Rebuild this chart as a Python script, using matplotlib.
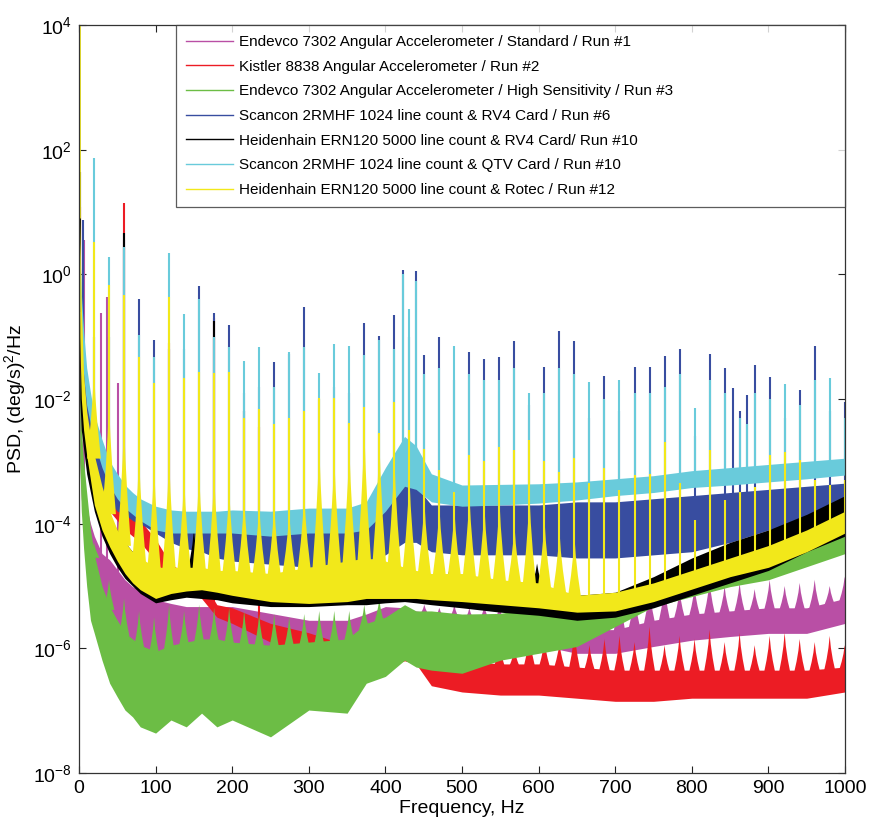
import numpy as np
import matplotlib
matplotlib.use("Agg")
import matplotlib.pyplot as plt
from matplotlib.lines import Line2D

plt.rcParams['font.family'] = ['Liberation Sans', 'DejaVu Sans']

# ---------------- data (PSD values stored as log10 exponents) ----------------
freq_grid = [1, 3, 6, 10, 15, 20, 30, 40, 50, 60, 70, 80, 100, 120, 140, 160, 180, 200,
             250, 300, 350, 375, 400, 425, 440, 460, 500, 550, 600, 650, 700, 750, 800,
             850, 900, 950, 1000]

# Endevco standard (magenta)
magenta_lo = [-3.0, -3.6, -4.0, -4.48, -4.8, -5.12, -5.44, -5.65, -5.81, -5.92, -6.03, -6.08, -6.29, -6.19,
              -6.08, -6.19, -6.08, -6.19, -6.55, -6.5, -6.35, -6.1, -5.9, -5.8, -5.8, -5.8, -5.85, -5.9,
              -5.95, -6.08, -6.08, -5.97, -5.87, -5.81, -5.76, -5.76, -5.6]
magenta_hi = [-1.5, -2.5, -3.0, -3.73, -4.0, -4.2, -4.48, -4.58, -4.74, -4.9, -5.01, -5.06, -5.22, -5.28,
              -5.33, -5.33, -5.33, -5.33, -5.44, -5.55, -5.55, -5.45, -5.33, -5.35, -5.4, -5.44, -5.5, -5.55,
              -5.6, -5.7, -5.7, -5.55, -5.45, -5.4, -5.35, -5.35, -5.2]
# Kistler (red)
red_lo = [-1.5, -2.0, -2.4, -2.9, -3.05, -3.2, -3.5, -3.8, -3.95, -4.1, -4.2, -4.3, -4.6, -4.95,
          -5.1, -5.2, -5.5, -5.6, -5.9, -6.1, -6.35, -6.4, -6.3, -6.2, -6.25, -6.6, -6.7, -6.75,
          -6.75, -6.8, -6.85, -6.85, -6.8, -6.8, -6.8, -6.8, -6.7]
red_hi = [0.0, -1.0, -1.6, -2.3, -2.55, -2.8, -3.0, -3.3, -3.5, -3.7, -3.8, -3.95, -4.25, -4.65,
          -4.8, -4.9, -5.3, -5.35, -5.6, -5.75, -5.95, -6.0, -5.8, -5.55, -5.6, -6.1, -6.2, -6.25,
          -6.25, -6.3, -6.35, -6.35, -6.35, -6.35, -6.35, -6.35, -6.3]
# Endevco high sensitivity (green)
green_lo = [-3.0, -3.8, -4.4, -5.0, -5.55, -5.76, -6.19, -6.56, -6.78, -6.99, -7.1, -7.26, -7.36, -7.15,
            -7.26, -7.04, -7.26, -7.15, -7.42, -6.99, -7.04, -6.56, -6.45, -6.19, -6.3, -6.35, -6.4, -6.19,
            -6.08, -5.97, -5.65, -5.33, -5.17, -5.01, -4.9, -4.69, -4.48]
green_hi = [-1.5, -2.5, -3.0, -3.5, -4.1, -4.5, -5.0, -5.33, -5.55, -5.75, -5.85, -5.95, -6.05, -5.95,
            -5.9, -5.85, -5.85, -5.9, -5.95, -5.9, -5.85, -5.6, -5.5, -5.3, -5.4, -5.4, -5.45, -5.44,
            -5.33, -5.33, -5.17, -4.9, -4.69, -4.58, -4.48, -4.26, -4.05]
# Scancon RV4 (blue)
blue_lo = [-1.0, -1.8, -2.3, -2.7, -3.0, -3.2, -3.45, -3.65, -3.8, -3.85, -3.95, -4.0, -4.15, -4.3,
           -4.4, -4.45, -4.55, -4.6, -4.65, -4.7, -4.7, -4.6, -4.5, -4.3, -4.3, -4.45, -4.5, -4.5,
           -4.5, -4.55, -4.55, -4.5, -4.45, -4.3, -4.1, -3.95, -3.8]
blue_hi = [0.0, -0.8, -1.5, -2.0, -2.3, -2.6, -3.0, -3.25, -3.45, -3.55, -3.65, -3.75, -3.85, -3.95,
           -4.0, -4.0, -4.1, -4.1, -4.1, -4.1, -4.1, -4.0, -3.7, -3.3, -3.4, -3.7, -3.7, -3.7,
           -3.7, -3.65, -3.65, -3.6, -3.55, -3.5, -3.45, -3.4, -3.35]
# Heidenhain RV4 (black)
black_lo = [-2.0, -2.5, -2.8, -3.2, -3.5, -3.8, -4.2, -4.48, -4.7, -4.88, -5.0, -5.12, -5.27, -5.22,
            -5.18, -5.2, -5.22, -5.27, -5.33, -5.33, -5.3, -5.3, -5.27, -5.25, -5.27, -5.3, -5.35, -5.42,
            -5.47, -5.55, -5.5, -5.35, -5.15, -4.95, -4.75, -4.45, -4.2]
black_hi = [-0.5, -1.5, -2.0, -2.5, -2.9, -3.2, -3.6, -3.9, -4.1, -4.3, -4.45, -4.6, -4.85, -4.8,
            -4.75, -4.8, -4.85, -4.9, -4.95, -4.9, -4.9, -4.85, -4.8, -4.85, -4.9, -4.95, -4.95, -5.0,
            -5.0, -5.15, -5.1, -4.85, -4.55, -4.3, -4.1, -3.85, -3.55]
# Scancon QTV (cyan)
cyan_lo = [-0.5, -1.2, -1.6, -2.1, -2.4, -2.7, -3.1, -3.4, -3.6, -3.75, -3.85, -3.95, -4.1, -4.15,
           -4.15, -4.15, -4.15, -4.15, -4.2, -4.15, -4.15, -4.1, -3.8, -3.4, -3.45, -3.65, -3.72, -3.7,
           -3.67, -3.62, -3.55, -3.5, -3.42, -3.38, -3.33, -3.28, -3.22]
cyan_hi = [0.5, -0.3, -0.9, -1.5, -1.9, -2.25, -2.65, -3.0, -3.2, -3.38, -3.5, -3.6, -3.72, -3.78,
           -3.8, -3.8, -3.8, -3.78, -3.8, -3.75, -3.75, -3.65, -3.1, -2.6, -2.75, -3.2, -3.38, -3.37,
           -3.36, -3.33, -3.28, -3.23, -3.15, -3.1, -3.05, -3.0, -2.95]
# Heidenhain Rotec (yellow)
yellow_lo = [-1.0, -2.0, -2.5, -2.9, -3.3, -3.7, -4.1, -4.37, -4.6, -4.8, -4.95, -5.06, -5.2, -5.12,
             -5.08, -5.06, -5.1, -5.15, -5.25, -5.28, -5.25, -5.2, -5.2, -5.2, -5.2, -5.22, -5.25, -5.3,
             -5.35, -5.42, -5.4, -5.25, -5.05, -4.85, -4.7, -4.45, -4.15]
yellow_hi = [1.0, -0.5, -1.6, -2.2, -2.6, -2.9, -3.4, -3.8, -4.1, -4.3, -4.45, -4.55, -4.7, -4.7,
             -4.7, -4.7, -4.75, -4.75, -4.8, -4.7, -4.6, -4.55, -4.6, -4.7, -4.75, -4.8, -4.8, -4.9,
             -4.95, -5.15, -5.1, -4.95, -4.75, -4.55, -4.35, -4.1, -3.8]

# harmonic line frequencies (Hz) read from the spike positions
harm_f = [19.6, 39.2, 58.8, 78.4, 98.0, 117.6, 137.2, 156.8, 176.4, 196.0, 215.6, 235.2, 254.8,
          274.4, 294.0, 313.6, 333.2, 352.8, 372.4, 392.0, 411.6, 431.2, 450.8, 470.4, 490.0, 509.6,
          529.2, 548.8, 568.4, 588.0, 607.6, 627.2, 646.8, 666.4, 686.0, 705.6, 725.2, 744.8, 764.4,
          784.0, 803.6, 823.2, 842.8, 862.4, 882.0, 901.6, 921.2, 940.8, 960.4, 980.0, 999.6]
cyan_spike = [1.87, 0.28, 0.44, -0.97, -1.33, 0.34, -0.64, -0.4, -1.0, -1.17, -1.39, -1.17, -1.8,
              -1.25, -1.17, -1.58, -1.12, -1.15, -1.3, -1.05, -1.2, -0.55, -1.6, -1.5, -1.15, -1.6,
              -1.7, -1.7, -1.5, -1.9, -1.9, -1.5, -1.6, -1.73, -2.0, -1.7, -1.9, -1.9, -1.8,
              -1.6, -2.15, -1.7, -1.9, -2.3, -1.9, -2.0, -1.76, -2.1, -1.7, -1.67, -2.3]
blue_spike = [-1.0, -1.0, 0.55, -0.4, -1.05, -1.2, -1.2, -0.19, -0.62, -0.81, -1.9, -1.8, -1.41,
              -1.28, -0.53, -2.0, -1.8, -1.9, -0.78, -0.99, -0.65, -1.0, -1.3, -1.0, -1.7, -1.25,
              -1.36, -1.33, -1.07, -2.1, -1.49, -0.91, -1.07, -2.3, -1.63, -2.2, -1.49, -1.49, -1.31,
              -1.2, -2.6, -1.28, -1.5, -2.2, -1.46, -1.65, -2.3, -1.85, -1.15, -2.2, -2.05]
yellow_spike = [0.52, -0.17, -0.33, -1.33, -1.74, -0.36, -1.66, -1.57, -1.58, -1.57, -2.3, -2.16, -2.4,
                -2.3, -2.2, -1.99, -1.99, -2.39, -2.13, -2.55, -2.05, -2.5, -2.8, -3.14, -3.5, -2.9,
                -3.0, -2.77, -2.82, -2.66, -3.0, -3.17, -2.95, -3.35, -3.1, -3.46, -3.22, -3.2, -2.69,
                -3.35, -3.94, -2.82, -3.62, -3.5, -3.41, -2.9, -2.85, -2.98, -3.3, -3.38, -3.3]
yellow_hump = [-1.5, -2.0, -2.3, -2.87, -3.0, -2.87, -3.2, -3.14, -3.14, -3.4, -3.55, -3.67, -3.67,
               -3.8, -3.5, -2.7, -2.87, -2.7, -2.4, -2.6, -2.87, -3.2, -3.6, -3.7, -3.75, -3.5,
               -3.7, -3.6, -4.0, -3.5, -3.9, -4.1, -4.2]
green_hump = [-4.3, -4.9, -5.2, -5.4, -5.5, -5.3, -5.4, -5.3, -5.35, -5.35, -5.4, -5.45, -5.45,
              -5.5, -5.45, -5.4, -5.4, -5.4, -5.3, -5.2]
red_hump = [-5.85, -5.9, -5.75, -5.95, -5.8, -5.9, -6.0, -5.75, -5.85, -5.9, -5.7, -5.95, -5.85,
            -5.8, -5.9, -5.65, -5.95, -5.8, -5.85, -5.7, -5.9, -5.75, -5.95, -5.8, -5.75, -5.85,
            -5.9, -5.8, -5.95]
magenta_hump = [-5.3, -5.35, -5.3, -5.35, -5.3, -5.3, -5.35, -5.3, -5.35, -5.3, -5.2, -5.1, -5.05,
                -5.0, -5.1, -5.0, -4.95, -5.05, -5.0, -4.9, -5.0, -4.95, -5.05, -4.9, -5.0, -4.95,
                -4.9, -5.0, -4.85]
# extra (non-harmonic) spikes: frequency, log10 top
cyan_extra_f = [422.5, 440.0, 871.7]
cyan_extra = [0.0, -0.1, -2.4]
blue_extra_f = [4.8, 422.5, 440.0, 854.0, 871.7]
blue_extra = [0.87, 0.07, 0.06, -1.82, -1.94]
red_extra_f = [1.3, 58.8, 117.6, 176.4, 235.2]
red_extra = [1.08, 1.14, -1.1, -0.7, -2.45]
black_extra_f = [1.0, 58.8, 176.4, 215.6]
black_extra = [1.64, 0.66, -0.75, -2.2]
magenta_extra_f = [7.0, 28.7, 37.0, 51.0]
magenta_extra = [0.55, -0.62, -0.36, -1.75]
yellow_extra_f = [0.4]
yellow_extra = [4.0]
black_hump_f = [150, 315, 395, 485, 598]
black_hump = [-4.1, -4.16, -4.37, -4.64, -4.64]

labels = ["Endevco 7302 Angular Accelerometer / Standard / Run #1",
          "Kistler 8838 Angular Accelerometer / Run #2",
          "Endevco 7302 Angular Accelerometer / High Sensitivity / Run #3",
          "Scancon 2RMHF 1024 line count & RV4 Card / Run #6",
          "Heidenhain ERN120 5000 line count & RV4 Card/ Run #10",
          "Scancon 2RMHF 1024 line count & QTV Card / Run #10",
          "Heidenhain ERN120 5000 line count & Rotec / Run #12"]
colors = ['#B94FA5', '#EC1C24', '#6CBD45', '#384DA0', '#000000', '#69CBDB', '#F2E81A']

# ---------------- drawing ----------------
fig = plt.figure(figsize=(8.69, 8.22), dpi=100)
ax = fig.add_axes([79 / 869, 1 - 773 / 822, (845 - 79) / 869, (773 - 25) / 822])
ax.set_yscale('log')

F = np.array(freq_grid, float)
hump_dx = np.array([-1, -0.5, -0.2, 0, 0.2, 0.5, 1])
hump_fr = np.array([0, 0.38, 0.68, 1, 0.68, 0.38, 0])


def band(lo, hi, color, z):
    ax.fill_between(F, 10 ** np.array(lo), 10 ** np.array(hi), color=color, lw=0, zorder=z)


def spikes(fs, tops, hi, color, z, lw=1.5):
    fs = np.array(fs, float)
    base = 10 ** (np.interp(fs, F, hi) - 0.1)
    ax.vlines(fs, base, 10 ** np.array(tops), colors=color, lw=lw, zorder=z)


def humps(fs, tops, hi, color, z, half):
    for f, t in zip(fs, tops):
        b = np.interp(f, F, hi) - 0.08
        xs = f + half * hump_dx
        ys = 10 ** (b + (t - b) * hump_fr)
        ax.fill(xs, ys, color=color, lw=0, zorder=z)


# 1 magenta
z = 2
band(magenta_lo, magenta_hi, colors[0], z)
humps(harm_f[22:], magenta_hump, magenta_hi, colors[0], z, 8)
spikes(magenta_extra_f, magenta_extra, magenta_hi, colors[0], z)
# 2 red
z = 3
band(red_lo, red_hi, colors[1], z)
humps(harm_f[22:], red_hump, red_hi, colors[1], z, 8)
spikes(red_extra_f, red_extra, red_hi, colors[1], z)
# 3 green
z = 4
band(green_lo, green_hi, colors[2], z)
humps(harm_f[:20], green_hump, green_hi, colors[2], z, 7)
# 4 blue
z = 5
band(blue_lo, blue_hi, colors[3], z)
spikes(harm_f, blue_spike, blue_hi, colors[3], z)
spikes(blue_extra_f, blue_extra, blue_hi, colors[3], z)
# 5 black
z = 6
band(black_lo, black_hi, colors[4], z)
humps(black_hump_f, black_hump, black_hi, colors[4], z, 10)
spikes(black_extra_f, black_extra, black_hi, colors[4], z)
# 6 cyan
z = 7
band(cyan_lo, cyan_hi, colors[5], z)
spikes(harm_f, cyan_spike, cyan_hi, colors[5], z)
spikes(cyan_extra_f, cyan_extra, cyan_hi, colors[5], z)
# 7 yellow
z = 8
band(yellow_lo, yellow_hi, colors[6], z)
humps(harm_f[:33], yellow_hump, yellow_hi, colors[6], z, 9)
spikes(harm_f, yellow_spike, yellow_hi, colors[6], z)
spikes(yellow_extra_f, yellow_extra, yellow_hi, colors[6], z, lw=2)

ax.set_xlim(0, 1000)
ax.set_ylim(1e-8, 1e4)
ax.set_xticks(np.arange(0, 1001, 100))
ax.set_xticklabels([str(v) for v in range(0, 1001, 100)])
yt = [1e-8, 1e-6, 1e-4, 1e-2, 1e0, 1e2, 1e4]
ax.set_yticks(yt)
ax.set_yticklabels([r'$\mathregular{10^{%d}}$' % int(round(np.log10(v))) for v in yt])
ax.yaxis.set_minor_locator(matplotlib.ticker.NullLocator())
ax.tick_params(direction='in', length=5, top=True, right=True, labelsize=14, width=0.8,
               colors='#222222', labelcolor='black', pad=5)
for s in ax.spines.values():
    s.set_linewidth(0.9)
    s.set_color('#333333')
    s.set_zorder(9)

ax.set_xlabel('Frequency, Hz', fontsize=14, labelpad=2)
ax.set_ylabel(r'PSD, (deg/s)$\mathregular{^2}$/Hz', fontsize=14, labelpad=4)

handles = [Line2D([], [], color=c, lw=1.0) for c in colors]
leg = ax.legend(handles, labels, loc='upper left', bbox_to_anchor=(0.1266, 0.726, 0.8734, 0.274),
                mode='expand', borderaxespad=0, fontsize=11.0, frameon=True, fancybox=False,
                edgecolor='#333333', handlelength=3.05, handletextpad=0.4, labelspacing=0.7,
                borderpad=0.65)
leg.get_frame().set_linewidth(0.9)
leg.set_zorder(20)

fig.savefig('out.png', dpi=100)
